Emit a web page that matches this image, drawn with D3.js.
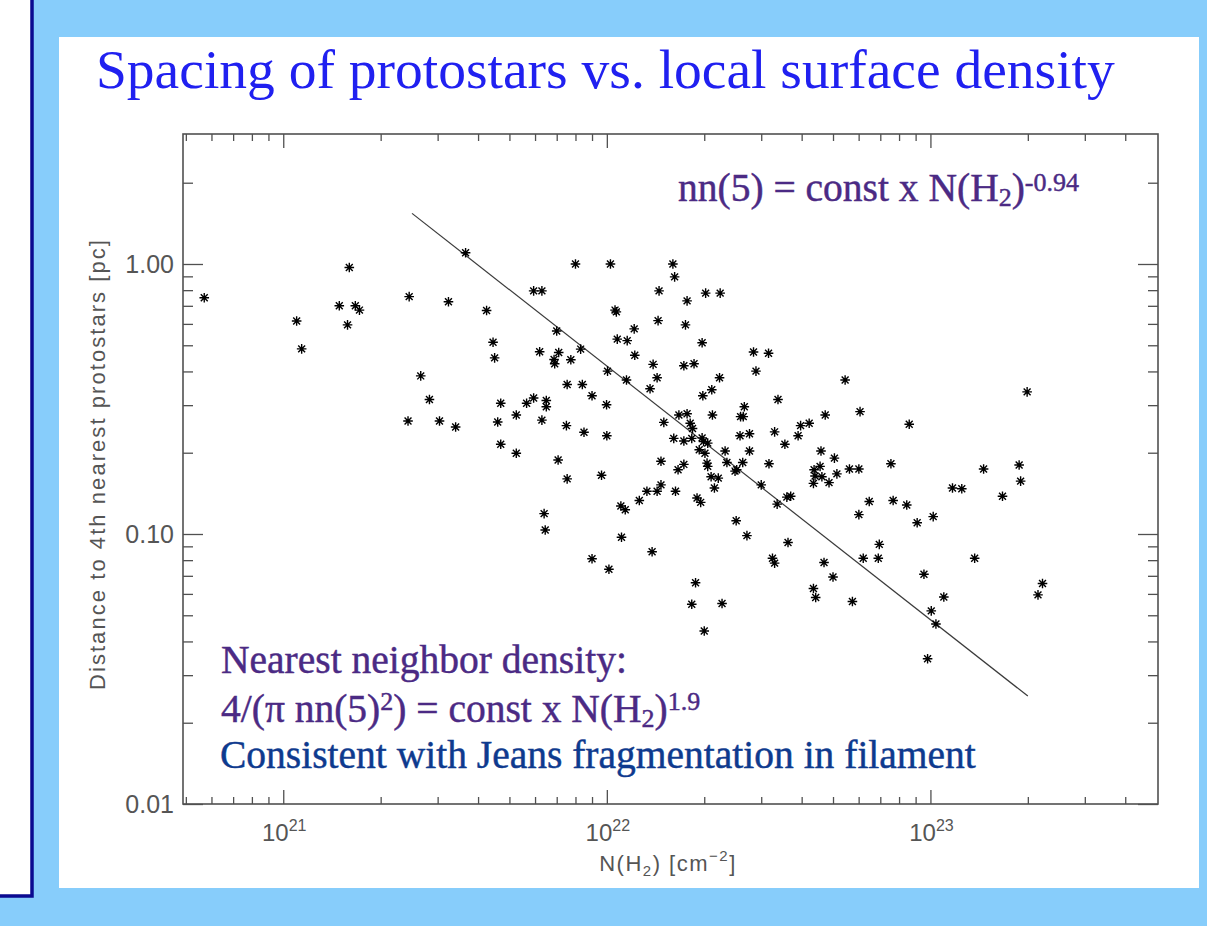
<!DOCTYPE html>
<html>
<head>
<meta charset="utf-8">
<script src="https://cdn.jsdelivr.net/npm/d3@7"></script>
<style>
  html, body { margin: 0; padding: 0; background: #87cdfb; }
  svg { display: block; }
</style>
</head>
<body>
<svg id="chart" width="1207" height="926"></svg>
<script>
/* Column density N(H2) [cm^-2] of each protostar */
var nH2 = [
  5.7e20, 1.6e21, 1.49e21, 1.67e21, 1.72e21, 1.1e21, 1.58e21, 1.14e21, 2.45e21, 3.24e21,
  2.66e21, 3.66e21, 4.25e21, 4.45e21, 4.5e21, 5.94e21, 6.3e21, 8.0e21, 1.026e22, 1.06e22,
  1.07e22, 7.0e21, 8.3e21, 6.2e21, 7.1e21, 6.87e21, 6.9e21, 7.74e21, 1.005e22, 1.215e22,
  1.077e22, 1.156e22, 1.22e22, 1.39e22, 1.15e22, 1.43e22, 1.45e22, 1.44e22, 1.6e22, 1.62e22,
  1.77e22, 1.75e22, 1.97e22, 2.02e22, 2.24e22, 1.73e22, 1.86e22, 2.23e22, 2.84e22, 3.16e22,
  2.89e22, 5.45e22, 1.99e23, 4.73e22, 6.06e22, 4.22e22, 3.97e22, 3.9e22, 8.6e22, 4.59e22,
  5.05e22, 4.56e22, 4.37e22, 4.4e22, 4.62e22, 4.35e22, 4.86e22, 5.14e22, 5.62e22, 6.01e22,
  7.55e22, 1.46e23, 1.88e23, 1.9e23, 1.17e23, 1.25e23, 1.67e23, 6.47e22, 7.67e22, 8.45e22,
  6.01e22, 9.1e22, 1.02e23, 6.95e22, 6.2e22, 6.9e22, 1.37e23, 4.69e22, 5.0e22, 9.55e22,
  2.22e23, 2.15e23, 4.35e22, 4.42e22, 5.74e22, 1.1e23, 1.006e23, 1.04e23, 9.8e22, 2.83e21,
  2.43e21, 3.04e21, 3.41e21, 4.7e21, 4.6e21, 4.7e21, 5.25e21, 5.25e21, 5.65e21, 5.94e21,
  6.5e21, 6.5e21, 6.3e21, 7.54e21, 8.4e21, 9.0e21, 9.98e21, 7.5e21, 8.5e21, 1.0e22,
  1.36e22, 3.38e22, 1.98e22, 2.11e22, 7.07e21, 7.54e21, 9.63e21, 6.4e21, 6.45e21, 1.105e22,
  1.14e22, 1.26e22, 1.33e22, 1.43e22, 1.47e22, 1.63e22, 1.47e22, 1.66e22, 1.73e22, 1.5e22,
  1.67e22, 1.77e22, 1.81e22, 1.84e22, 1.61e22, 1.73e22, 1.83e22, 1.97e22, 1.99e22, 2.05e22,
  1.93e22, 2.01e22, 2.12e22, 2.32e22, 2.04e22, 2.05e22, 2.1e22, 2.21e22, 2.15e22, 2.35e22,
  2.49e22, 2.52e22, 2.63e22, 2.76e22, 2.58e22, 2.76e22, 2.66e22, 2.59e22, 2.64e22, 3.3e22,
  3.55e22, 3.17e22, 3.0e22, 3.36e22, 3.6e22, 3.7e22, 1.9e22, 1.95e22, 1.11e22, 1.38e22,
  9.0e21, 1.015e22, 2.51e22, 2.71e22, 3.63e22, 3.25e22, 3.3e22, 1.88e22, 1.83e22, 2.27e22,
  2.0e22
];

/* Distance to 4th nearest protostar [pc], same order as nH2 */
var nnDist = [
  0.75, 0.97, 0.70, 0.70, 0.675, 0.615, 0.595, 0.485, 0.757, 0.725,
  0.385, 1.10, 0.673, 0.513, 0.449, 0.795, 0.795, 1.0, 1.0, 0.675,
  0.665, 0.565, 0.484, 0.473, 0.47, 0.443, 0.427, 0.442, 0.401, 0.575,
  0.527, 0.52, 0.459, 0.425, 0.372, 0.379, 0.795, 0.617, 1.0, 0.896,
  0.73, 0.595, 0.511, 0.78, 0.78, 0.42, 0.427, 0.379, 0.472, 0.467,
  0.401, 0.372, 0.336, 0.276, 0.284, 0.257, 0.252, 0.231, 0.255, 0.203,
  0.191, 0.178, 0.173, 0.164, 0.163, 0.154, 0.155, 0.167, 0.174, 0.174,
  0.182, 0.174, 0.18, 0.157, 0.148, 0.147, 0.138, 0.132, 0.133, 0.128,
  0.118, 0.110, 0.116, 0.0915, 0.0813, 0.0813, 0.0813, 0.0784, 0.0693, 0.0709,
  0.0656, 0.0595, 0.0628, 0.0582, 0.0562, 0.0584, 0.0519, 0.0464, 0.0345, 0.315,
  0.262, 0.262, 0.249, 0.305, 0.26, 0.215, 0.276, 0.199, 0.305, 0.319,
  0.312, 0.296, 0.264, 0.358, 0.358, 0.325, 0.301, 0.252, 0.238, 0.231,
  0.345, 0.315, 0.325, 0.342, 0.188, 0.160, 0.165, 0.119, 0.1035, 0.127,
  0.123, 0.133, 0.144, 0.144, 0.152, 0.144, 0.186, 0.173, 0.181, 0.259,
  0.276, 0.279, 0.257, 0.246, 0.226, 0.221, 0.226, 0.227, 0.22, 0.217,
  0.205, 0.199, 0.276, 0.203, 0.183, 0.178, 0.163, 0.161, 0.148, 0.184,
  0.171, 0.173, 0.184, 0.203, 0.231, 0.235, 0.296, 0.272, 0.272, 0.239,
  0.215, 0.182, 0.152, 0.129, 0.137, 0.138, 0.136, 0.131, 0.0973, 0.086,
  0.081, 0.074, 0.112, 0.0986, 0.093, 0.0813, 0.078, 0.066, 0.0549, 0.0553,
  0.0437
];

/* Power-law fit nn = const x N^-0.94, drawn between its two end points */
var fitN = [2.5e21, 2.0e23];
var fitDist = [1.54, 0.0251];

var xMajorTicks = [1e21, 1e22, 1e23];
var xMajorExp = ["21", "22", "23"];
var yMajorTicks = [0.01, 0.1, 1];

var svg = d3.select("#chart");

/* Page decoration: white side panel with navy border, white slide area */
svg.append("rect").attr("x", 0).attr("y", 0).attr("width", 32).attr("height", 896)
  .attr("fill", "#fff");
svg.append("path").attr("d", "M32,0V896H0").attr("fill", "none")
  .attr("stroke", "#0a0a90").attr("stroke-width", 3.5);
svg.append("rect").attr("x", 59).attr("y", 37).attr("width", 1140).attr("height", 851)
  .attr("fill", "#fff");

svg.append("text")
  .attr("x", 96).attr("y", 88)
  .attr("font-family", "'Liberation Serif', 'Times New Roman', serif")
  .attr("font-size", 55.5)
  .attr("fill", "#2020f0")
  .text("Spacing of protostars vs. local surface density");

/* Scales */
var frame = {left: 183, right: 1158, top: 134, bottom: 804};
var x = d3.scaleLog().domain([4.9e20, 5.05e23]).range([frame.left, frame.right]);
var y = d3.scaleLog().domain([0.01, 3.03]).range([frame.bottom, frame.top]);

function notMajor(majors) {
  return function(v) {
    return majors.every(function(m) { return Math.abs(v / m - 1) > 1e-6; });
  };
}
var xMinor = x.ticks().filter(notMajor(xMajorTicks))
  .filter(function(v) { return x(v) < frame.right - 2; });
var yMinor = y.ticks().filter(notMajor(yMajorTicks))
  .filter(function(v) { return y(v) > frame.top + 2; });

var axisColor = "#505050";
var plot = svg.append("g");

function styleAxis(g) {
  g.select(".domain").remove();
  g.selectAll(".tick line").attr("stroke", axisColor).attr("stroke-width", 1.3);
  g.selectAll(".tick text").remove();
}

/* Frame */
plot.append("rect")
  .attr("x", frame.left).attr("y", frame.top)
  .attr("width", frame.right - frame.left).attr("height", frame.bottom - frame.top)
  .attr("fill", "none").attr("stroke", axisColor).attr("stroke-width", 1.6);

/* Inward ticks on all four sides */
plot.append("g").attr("transform", "translate(0," + frame.bottom + ")")
  .call(d3.axisBottom(x).tickValues(xMajorTicks).tickSize(-14)).call(styleAxis);
plot.append("g").attr("transform", "translate(0," + frame.bottom + ")")
  .call(d3.axisBottom(x).tickValues(xMinor).tickSize(-7)).call(styleAxis);
plot.append("g").attr("transform", "translate(0," + frame.top + ")")
  .call(d3.axisTop(x).tickValues(xMajorTicks).tickSize(-14)).call(styleAxis);
plot.append("g").attr("transform", "translate(0," + frame.top + ")")
  .call(d3.axisTop(x).tickValues(xMinor).tickSize(-7)).call(styleAxis);
plot.append("g").attr("transform", "translate(" + frame.left + ",0)")
  .call(d3.axisLeft(y).tickValues(yMajorTicks).tickSize(-20)).call(styleAxis);
plot.append("g").attr("transform", "translate(" + frame.left + ",0)")
  .call(d3.axisLeft(y).tickValues(yMinor).tickSize(-10)).call(styleAxis);
plot.append("g").attr("transform", "translate(" + frame.right + ",0)")
  .call(d3.axisRight(y).tickValues(yMajorTicks).tickSize(-20)).call(styleAxis);
plot.append("g").attr("transform", "translate(" + frame.right + ",0)")
  .call(d3.axisRight(y).tickValues(yMinor).tickSize(-10)).call(styleAxis);

/* Tick labels */
var sansFont = "'Liberation Sans', Arial, Helvetica, sans-serif";
var labelColor = "#555";

plot.selectAll(".ylab").data(yMajorTicks).enter().append("text")
  .attr("class", "ylab")
  .attr("x", frame.left - 9).attr("y", function(d) { return y(d) + 9; })
  .attr("text-anchor", "end")
  .attr("font-family", sansFont).attr("font-size", 25)
  .attr("fill", labelColor)
  .text(d3.format(".2f"));

var xl = plot.selectAll(".xlab").data(xMajorTicks).enter().append("text")
  .attr("class", "xlab")
  .attr("x", function(d) { return x(d) + 1; }).attr("y", frame.bottom + 37)
  .attr("text-anchor", "middle")
  .attr("font-family", sansFont).attr("font-size", 24)
  .attr("fill", labelColor);
xl.append("tspan").text("10");
xl.append("tspan").attr("font-size", 16).attr("dy", -10)
  .text(function(d, i) { return xMajorExp[i]; });

/* Axis titles */
var xt = plot.append("text")
  .attr("x", 668).attr("y", 871)
  .attr("text-anchor", "middle")
  .attr("font-family", sansFont).attr("font-size", 22)
  .attr("letter-spacing", 1.5)
  .attr("fill", labelColor);
xt.append("tspan").text("N(H");
xt.append("tspan").attr("font-size", 15).attr("dy", 5).text("2");
xt.append("tspan").attr("dy", -5).text(")  [cm");
xt.append("tspan").attr("font-size", 15).attr("dy", -10).text("\u22122");
xt.append("tspan").attr("dy", 10).text("]");

plot.append("text")
  .attr("transform", "translate(105,465) rotate(-90)")
  .attr("text-anchor", "middle")
  .attr("font-family", sansFont).attr("font-size", 22)
  .attr("fill", labelColor)
  .attr("textLength", 450).attr("lengthAdjust", "spacing")
  .text("Distance to 4th nearest protostars [pc]");

/* Fit line */
var fitLine = d3.line()
  .x(function(d) { return x(d[0]); })
  .y(function(d) { return y(d[1]); });
plot.append("path")
  .datum(d3.zip(fitN, fitDist))
  .attr("d", fitLine)
  .attr("fill", "none").attr("stroke", "#3a3a3a").attr("stroke-width", 1.2);

/* Asterisk markers */
var r = 4.8, dd = r * 0.72;
var star = "M" + (-r) + ",0H" + r + "M0," + (-r) + "V" + r +
  "M" + (-dd) + "," + (-dd) + "L" + dd + "," + dd +
  "M" + (-dd) + "," + dd + "L" + dd + "," + (-dd);

plot.selectAll(".pt").data(d3.zip(nH2, nnDist)).enter().append("path")
  .attr("class", "pt")
  .attr("transform", function(d) { return "translate(" + x(d[0]) + "," + y(d[1]) + ")"; })
  .attr("d", star)
  .attr("fill", "none").attr("stroke", "#000").attr("stroke-width", 1.4);

/* Annotations */
var serif = "'Liberation Serif', 'Times New Roman', serif";
var purple = "#4b2a84";
var annSize = 39.5;

function annText(xp, yp, color) {
  return svg.append("text").attr("x", xp).attr("y", yp)
    .attr("font-family", serif).attr("font-size", annSize)
    .attr("fill", color).attr("stroke", color).attr("stroke-width", 0.45);
}

var a1 = annText(678, 201, purple);
a1.append("tspan").text("nn(5) = const x N(H");
a1.append("tspan").attr("font-size", 26).attr("dy", 5).text("2");
a1.append("tspan").attr("dy", -5).text(")");
a1.append("tspan").attr("font-size", 26).attr("dy", -10).text("-0.94");

annText(221, 673, purple).text("Nearest neighbor density:");

var a2 = annText(221, 722, purple);
a2.append("tspan").text("4/(\u03c0 nn(5)");
a2.append("tspan").attr("font-size", 26).attr("dy", -12).text("2");
a2.append("tspan").attr("dy", 12).text(") = const x N(H");
a2.append("tspan").attr("font-size", 26).attr("dy", 5).text("2");
a2.append("tspan").attr("dy", -5).text(")");
a2.append("tspan").attr("font-size", 26).attr("dy", -12).text("1.9");

annText(220, 768, "#0e3a8e").text("Consistent with Jeans fragmentation in filament");
</script>
</body>
</html>
